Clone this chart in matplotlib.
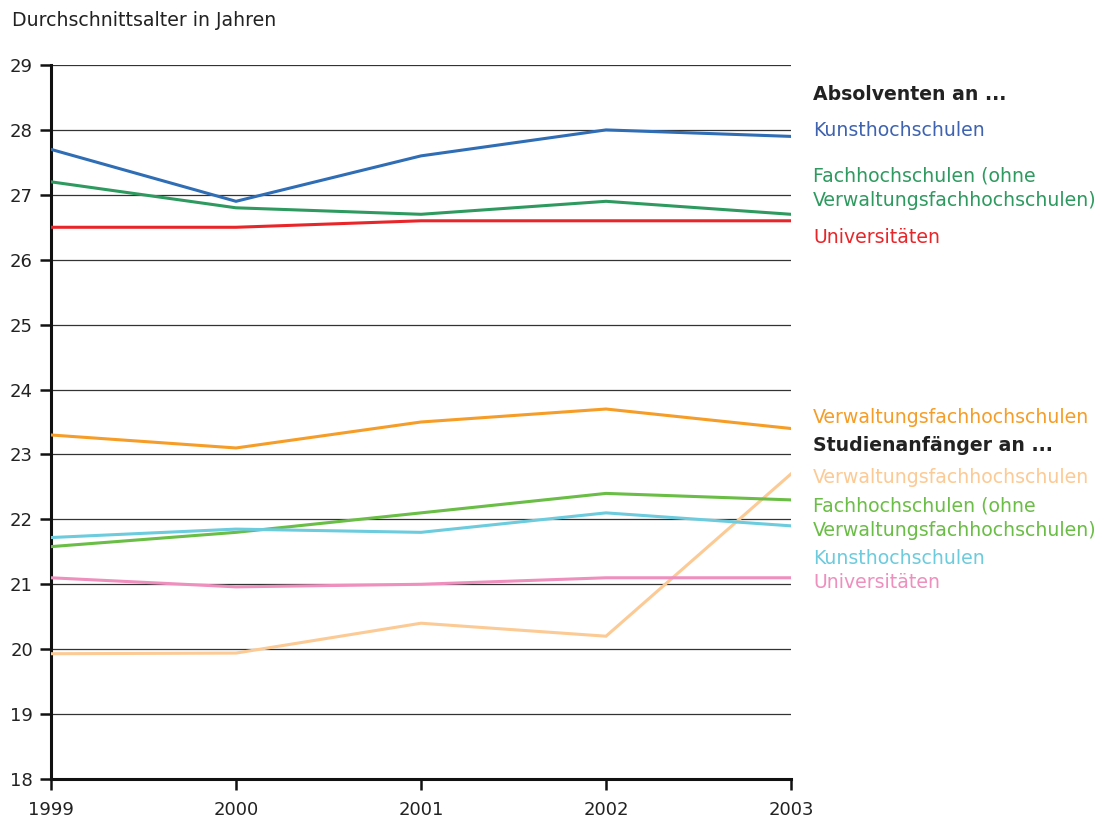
import matplotlib
matplotlib.use("Agg")
import matplotlib.pyplot as plt

plt.rcParams['font.family'] = ['DejaVu Sans']

years = [1999, 2000, 2001, 2002, 2003]

abs_kunst = [27.7, 26.9, 27.6, 28.0, 27.9]
abs_fach = [27.2, 26.8, 26.7, 26.9, 26.7]
abs_uni = [26.5, 26.5, 26.6, 26.6, 26.6]
abs_verw = [23.3, 23.1, 23.5, 23.7, 23.4]
anf_verw = [19.93, 19.94, 20.4, 20.2, 22.7]
anf_fach = [21.58, 21.8, 22.1, 22.4, 22.3]
anf_kunst = [21.72, 21.85, 21.8, 22.1, 21.9]
anf_uni = [21.1, 20.96, 21.0, 21.1, 21.1]

series = [
    (abs_kunst, '#2f6db5'),
    (abs_fach, '#2e9a5f'),
    (abs_uni, '#e8262a'),
    (abs_verw, '#f59d26'),
    (anf_verw, '#fcca94'),
    (anf_fach, '#6abd45'),
    (anf_kunst, '#6ccbdd'),
    (anf_uni, '#ee8fbe'),
]

labels = [
    ("Absolventen an ...", '#222222', True, 94),
    ("Kunsthochschulen", '#3f63b0', False, 130),
    ("Fachhochschulen (ohne\nVerwaltungsfachhochschulen)", '#2e9a5f', False, 188),
    ("Universitäten", '#e8262a', False, 237),
    ("Verwaltungsfachhochschulen", '#f59d26', False, 418),
    ("Studienanfänger an ...", '#222222', True, 446),
    ("Verwaltungsfachhochschulen", '#fcca94', False, 477),
    ("Fachhochschulen (ohne\nVerwaltungsfachhochschulen)", '#6abd45', False, 518),
    ("Kunsthochschulen", '#6ccbdd', False, 558),
    ("Universitäten", '#ee8fbe', False, 583),
]

W, H = 1102, 819
fig = plt.figure(figsize=(W / 100, H / 100), dpi=100)
ax = fig.add_axes([51 / W, 1 - 779 / H, (791 - 51) / W, (779 - 65) / H])

for vals, c in series:
    ax.plot(years, vals, color=c, lw=2.2, solid_joinstyle='miter', zorder=3)

ax.set_xlim(1999, 2003)
ax.set_ylim(18, 29)
ax.set_yticks(range(18, 30))
ax.set_xticks(years)
ax.yaxis.grid(True, color='#333333', lw=0.9, zorder=1)
for s in ['top', 'right']:
    ax.spines[s].set_visible(False)
for s in ['left', 'bottom']:
    ax.spines[s].set_linewidth(2.2)
    ax.spines[s].set_color('#111111')
ax.tick_params(axis='both', direction='out', length=8, width=1.8, color='#111111',
               labelsize=13, labelcolor='#222222')
ax.tick_params(axis='x', pad=8)
ax.tick_params(axis='y', pad=5)
for lab in ax.get_xticklabels():
    lab.set_clip_on(False)

fig.text(12 / W, 1 - 20 / H, "Durchschnittsalter in Jahren", fontsize=13.6,
         color='#222222', va='center', ha='left')

for text, c, bold, y in labels:
    fig.text(813 / W, 1 - y / H, text, fontsize=13.6, color=c, va='center', ha='left',
             fontweight='bold' if bold else 'normal', linespacing=1.4)

fig.savefig("out.png", dpi=100)
